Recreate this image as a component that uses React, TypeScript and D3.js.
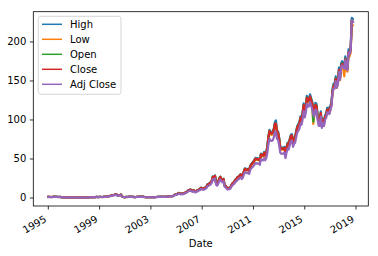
import React, { useEffect } from "react";
import * as d3 from "d3";

// Monthly samples, first of each month from 1995-01 to 2018-10
const START_MONTH = new Date(1995, 0, 1);

const closeVals = [
  1.39, 1.43, 1.31, 1.26, 1.39, 1.53, 1.66, 1.58, 1.54, 1.33, 1.29, 1.43,
  1.14, 0.99, 0.88, 0.87, 0.86, 0.92, 0.75, 0.62, 0.82, 0.79, 0.89, 0.83,
  0.75, 0.60, 0.54, 0.65, 0.61, 0.59, 0.51, 0.76, 0.78, 0.78, 0.61, 0.61,
  0.47, 0.63, 0.91, 0.97, 1.07, 1.03, 1.03, 1.23, 1.09, 1.36, 1.32, 1.10,
  1.46, 1.46, 1.25, 1.28, 1.66, 1.46, 1.65, 1.99, 2.31, 2.31, 2.87, 3.25,
  3.67, 3.71, 4.09, 4.85, 4.43, 3.00, 3.74, 3.63, 4.36, 1.84, 1.40, 1.18,
  1.06, 1.54, 1.30, 1.58, 1.82, 1.43, 1.66, 1.34, 1.33, 1.11, 1.26, 1.52,
  1.56, 1.76, 1.55, 1.69, 1.74, 1.66, 1.27, 1.09, 1.06, 1.04, 1.15, 1.11,
  1.02, 1.03, 1.07, 1.01, 1.01, 1.29, 1.36, 1.51, 1.61, 1.48, 1.64, 1.49,
  1.53, 1.61, 1.71, 1.93, 1.84, 2.01, 2.32, 2.31, 2.46, 2.77, 3.74, 4.79,
  4.60, 5.49, 6.41, 5.96, 5.16, 5.69, 5.26, 6.09, 6.70, 7.66, 8.23, 9.69,
  10.27, 10.79, 9.79, 8.96, 10.06, 8.54, 8.19, 9.71, 9.69, 11.00, 11.59, 13.10,
  12.11, 12.24, 12.09, 13.27, 14.26, 17.31, 17.43, 18.83, 19.79, 21.93, 27.14, 26.03,
  28.30, 19.34, 17.86, 20.50, 24.86, 26.96, 23.91, 22.71, 24.21, 16.24, 15.37, 13.24,
  12.19, 12.87, 12.76, 15.01, 17.97, 19.40, 20.35, 23.34, 24.03, 26.48, 26.93, 28.56,
  30.10, 27.44, 29.23, 33.57, 37.30, 36.70, 35.93, 36.75, 34.73, 40.54, 43.00, 44.45,
  46.08, 48.47, 50.46, 49.79, 50.01, 49.69, 47.95, 55.79, 54.98, 54.47, 57.83, 54.60,
  57.86, 65.21, 77.49, 85.65, 83.43, 82.53, 83.43, 87.25, 95.03, 95.30, 85.05, 83.61,
  76.02, 65.07, 63.06, 63.24, 63.25, 64.25, 56.65, 64.65, 69.60, 68.11, 74.67, 79.44,
  80.15, 71.51, 75.18, 76.68, 84.30, 90.43, 92.93, 95.60, 102.50, 100.75, 108.00, 118.93,
  110.38, 117.16, 128.46, 124.43, 125.15, 130.28, 125.43, 121.30, 112.76, 110.30, 119.50, 118.30,
  105.26, 97.34, 96.69, 108.99, 93.74, 99.86, 95.60, 104.21, 106.10, 113.05, 113.54, 110.52,
  115.82, 121.35, 136.99, 143.66, 143.65, 152.76, 144.02, 148.73, 164.00, 154.12, 169.04, 171.85,
  169.23, 167.43, 178.12, 167.78, 165.26, 186.87, 185.11, 190.29, 227.63, 225.74,
];

const adjCloseVals = [
  1.23, 1.27, 1.16, 1.12, 1.23, 1.36, 1.47, 1.40, 1.36, 1.18, 1.14, 1.27,
  1.01, 0.88, 0.78, 0.77, 0.76, 0.82, 0.66, 0.55, 0.73, 0.70, 0.79, 0.74,
  0.66, 0.53, 0.48, 0.58, 0.54, 0.52, 0.45, 0.67, 0.69, 0.69, 0.54, 0.54,
  0.42, 0.56, 0.81, 0.86, 0.95, 0.91, 0.91, 1.09, 0.97, 1.20, 1.17, 0.97,
  1.29, 1.29, 1.11, 1.13, 1.47, 1.29, 1.46, 1.76, 2.05, 2.05, 2.54, 2.88,
  3.25, 3.29, 3.62, 4.30, 3.92, 2.66, 3.31, 3.22, 3.86, 1.63, 1.24, 1.05,
  0.94, 1.36, 1.15, 1.40, 1.61, 1.27, 1.47, 1.19, 1.18, 0.98, 1.12, 1.35,
  1.38, 1.56, 1.37, 1.50, 1.54, 1.47, 1.13, 0.97, 0.94, 0.92, 1.02, 0.98,
  0.90, 0.91, 0.95, 0.89, 0.89, 1.14, 1.20, 1.34, 1.43, 1.31, 1.45, 1.32,
  1.36, 1.43, 1.52, 1.71, 1.63, 1.78, 2.06, 2.05, 2.18, 2.45, 3.31, 4.24,
  4.08, 4.86, 5.68, 5.28, 4.57, 5.04, 4.66, 5.40, 5.94, 6.79, 7.29, 8.59,
  9.10, 9.56, 8.67, 7.94, 8.91, 7.57, 7.26, 8.60, 8.59, 9.75, 10.27, 11.61,
  10.73, 10.84, 10.71, 11.76, 12.63, 15.34, 15.44, 16.68, 17.53, 19.43, 24.05, 23.06,
  25.07, 17.14, 15.82, 18.16, 22.03, 23.89, 21.18, 20.12, 21.45, 14.39, 13.62, 11.73,
  10.80, 11.40, 11.31, 13.30, 15.92, 17.19, 18.03, 20.68, 21.29, 23.46, 23.86, 25.30,
  26.67, 24.31, 25.90, 29.74, 33.05, 32.52, 31.83, 32.56, 30.77, 35.92, 38.10, 39.38,
  40.83, 42.94, 44.71, 44.11, 44.31, 44.03, 42.48, 49.43, 48.71, 48.26, 51.24, 48.38,
  51.26, 57.78, 68.66, 75.89, 73.92, 73.12, 73.92, 77.30, 84.58, 84.82, 75.69, 74.75,
  67.96, 58.17, 56.69, 56.85, 56.86, 58.15, 51.27, 58.51, 63.41, 62.05, 68.02, 72.85,
  73.50, 65.58, 69.32, 70.70, 77.72, 83.83, 86.15, 88.62, 95.53, 93.90, 100.66, 111.32,
  103.32, 109.66, 120.75, 116.96, 117.64, 122.85, 118.28, 114.39, 106.90, 104.56, 113.29, 112.62,
  100.21, 92.67, 92.53, 104.30, 89.71, 96.17, 92.06, 100.35, 102.70, 109.43, 109.91, 107.54,
  112.69, 118.07, 133.84, 140.36, 140.35, 149.86, 141.28, 145.90, 161.54, 151.81, 166.50, 169.96,
  167.37, 165.59, 176.87, 166.61, 164.10, 186.22, 184.46, 189.62, 227.63, 225.74,
];

const highVals = [
  1.42, 1.46, 1.34, 1.29, 1.42, 1.56, 1.70, 1.62, 1.57, 1.36, 1.32, 1.46,
  1.17, 1.02, 0.90, 0.89, 0.88, 0.94, 0.77, 0.64, 0.84, 0.81, 0.91, 0.85,
  0.77, 0.62, 0.56, 0.67, 0.63, 0.61, 0.53, 0.78, 0.80, 0.80, 0.63, 0.63,
  0.49, 0.65, 0.93, 0.99, 1.09, 1.05, 1.05, 1.26, 1.11, 1.39, 1.35, 1.13,
  1.49, 1.49, 1.28, 1.31, 1.69, 1.49, 1.69, 2.03, 2.36, 2.36, 2.93, 3.31,
  3.74, 3.78, 4.17, 4.95, 4.52, 3.06, 3.81, 3.70, 4.45, 1.88, 1.43, 1.20,
  1.08, 1.57, 1.33, 1.61, 1.86, 1.46, 1.69, 1.37, 1.36, 1.13, 1.29, 1.55,
  1.59, 1.80, 1.58, 1.72, 1.77, 1.69, 1.30, 1.11, 1.08, 1.06, 1.17, 1.13,
  1.04, 1.05, 1.09, 1.03, 1.03, 1.32, 1.39, 1.54, 1.64, 1.51, 1.67, 1.52,
  1.56, 1.64, 1.74, 1.97, 1.88, 2.05, 2.36, 2.35, 2.51, 2.83, 3.82, 4.89,
  4.69, 5.60, 6.54, 6.08, 5.26, 5.80, 5.37, 6.21, 6.83, 7.81, 8.39, 9.88,
  10.48, 11.01, 9.99, 9.14, 10.26, 8.71, 8.35, 9.90, 9.88, 11.22, 11.82, 13.36,
  12.35, 12.48, 12.33, 13.54, 14.55, 17.66, 17.78, 19.21, 20.19, 22.37, 27.68, 26.55,
  28.87, 19.73, 18.22, 20.91, 25.36, 27.50, 24.39, 23.16, 24.69, 16.56, 15.68, 13.50,
  12.43, 13.13, 13.02, 15.31, 18.33, 19.79, 20.76, 23.81, 24.51, 27.01, 27.47, 29.13,
  30.70, 27.99, 29.81, 34.24, 38.05, 37.43, 36.65, 37.49, 35.42, 41.35, 43.86, 45.34,
  47.00, 49.44, 51.47, 50.79, 51.01, 50.68, 48.91, 56.91, 56.08, 55.56, 58.99, 55.69,
  59.02, 66.51, 79.04, 87.36, 85.10, 84.18, 85.10, 88.99, 96.93, 99.50, 86.75, 85.28,
  77.54, 66.37, 64.32, 64.50, 64.52, 65.54, 57.78, 65.94, 70.99, 69.47, 76.16, 81.03,
  81.75, 72.94, 76.68, 78.21, 85.99, 92.24, 94.79, 97.51, 104.55, 102.77, 110.16, 121.31,
  112.59, 119.50, 131.03, 126.92, 127.65, 132.89, 127.94, 123.73, 115.02, 112.51, 121.89, 120.67,
  107.37, 99.29, 98.62, 111.17, 95.61, 101.86, 97.51, 106.29, 108.22, 115.31, 115.81, 112.73,
  118.14, 123.78, 139.73, 146.53, 146.52, 155.82, 146.90, 151.70, 167.28, 157.20, 172.42, 175.29,
  172.62, 170.78, 181.68, 171.14, 168.57, 190.61, 188.81, 194.10, 230.80, 229.60,
];

const lowVals = [
  1.36, 1.40, 1.28, 1.23, 1.36, 1.50, 1.62, 1.54, 1.50, 1.30, 1.26, 1.40,
  1.11, 0.96, 0.86, 0.85, 0.84, 0.90, 0.73, 0.60, 0.80, 0.77, 0.87, 0.81,
  0.73, 0.58, 0.52, 0.63, 0.59, 0.57, 0.49, 0.74, 0.76, 0.76, 0.59, 0.59,
  0.45, 0.61, 0.89, 0.95, 1.05, 1.01, 1.01, 1.20, 1.07, 1.33, 1.29, 1.07,
  1.43, 1.43, 1.22, 1.25, 1.63, 1.43, 1.61, 1.95, 2.26, 2.26, 2.81, 3.19,
  3.60, 3.64, 4.01, 4.75, 4.34, 2.94, 3.67, 3.56, 4.27, 1.80, 1.37, 1.16,
  1.04, 1.51, 1.27, 1.55, 1.78, 1.40, 1.63, 1.31, 1.30, 1.09, 1.23, 1.49,
  1.53, 1.72, 1.52, 1.66, 1.71, 1.63, 1.24, 1.07, 1.04, 1.02, 1.13, 1.09,
  1.00, 1.01, 1.05, 0.99, 0.99, 1.26, 1.33, 1.48, 1.58, 1.45, 1.61, 1.46,
  1.50, 1.58, 1.68, 1.89, 1.80, 1.97, 2.28, 2.27, 2.41, 2.71, 3.66, 4.69,
  4.51, 5.38, 6.28, 5.84, 5.06, 5.58, 5.15, 5.97, 6.57, 7.51, 8.07, 9.50,
  10.06, 10.57, 9.59, 8.78, 9.86, 8.37, 8.03, 9.52, 9.50, 10.78, 11.36, 12.84,
  11.87, 12.00, 11.85, 13.00, 13.97, 16.96, 17.08, 18.45, 19.39, 21.49, 26.60, 25.51,
  27.73, 18.95, 17.50, 20.09, 24.36, 26.42, 23.43, 22.26, 23.73, 15.92, 15.06, 12.98,
  11.95, 12.61, 12.50, 14.71, 17.61, 19.01, 19.94, 22.87, 23.55, 25.95, 26.39, 27.99,
  29.50, 26.89, 28.65, 32.90, 36.55, 35.97, 35.21, 36.01, 34.04, 39.73, 42.14, 43.56,
  45.16, 47.50, 49.45, 48.79, 49.01, 48.70, 46.99, 54.67, 53.88, 53.38, 56.67, 53.51,
  56.70, 63.91, 75.94, 83.94, 81.76, 80.88, 81.76, 85.51, 93.13, 93.39, 83.35, 81.94,
  74.50, 63.77, 61.80, 61.98, 61.98, 62.96, 55.52, 63.36, 68.21, 66.75, 73.18, 77.85,
  78.55, 70.08, 73.68, 75.15, 82.61, 88.62, 91.07, 93.69, 100.45, 98.73, 105.84, 116.55,
  108.17, 114.82, 125.89, 121.94, 122.65, 127.67, 122.92, 118.87, 95.00, 108.09, 117.11, 115.93,
  103.15, 95.39, 94.76, 106.81, 91.87, 97.86, 93.69, 102.13, 103.98, 110.79, 111.27, 108.31,
  113.50, 118.92, 134.25, 140.79, 140.78, 149.70, 141.14, 145.76, 160.72, 151.04, 165.66, 168.41,
  165.85, 156.00, 174.56, 164.42, 161.95, 183.13, 181.41, 186.48, 223.08, 221.23,
];

const openVals = [
  1.38, 1.44, 1.32, 1.25, 1.40, 1.52, 1.67, 1.57, 1.55, 1.32, 1.30, 1.42,
  1.15, 0.98, 0.89, 0.86, 0.87, 0.91, 0.76, 0.61, 0.83, 0.78, 0.90, 0.82,
  0.74, 0.61, 0.55, 0.64, 0.62, 0.58, 0.52, 0.75, 0.79, 0.77, 0.62, 0.60,
  0.48, 0.62, 0.92, 0.96, 1.08, 1.02, 1.04, 1.22, 1.10, 1.35, 1.33, 1.09,
  1.45, 1.47, 1.26, 1.27, 1.67, 1.45, 1.66, 1.98, 2.32, 2.30, 2.88, 3.24,
  3.66, 3.72, 4.08, 4.86, 4.42, 3.01, 3.73, 3.64, 4.35, 1.85, 1.39, 1.19,
  1.07, 1.53, 1.31, 1.57, 1.83, 1.42, 1.67, 1.33, 1.34, 1.10, 1.27, 1.51,
  1.55, 1.77, 1.56, 1.68, 1.75, 1.65, 1.28, 1.08, 1.07, 1.03, 1.16, 1.10,
  1.03, 1.02, 1.08, 1.00, 1.02, 1.28, 1.37, 1.50, 1.62, 1.47, 1.65, 1.48,
  1.52, 1.62, 1.70, 1.94, 1.83, 2.02, 2.31, 2.32, 2.45, 2.78, 3.72, 4.81,
  4.62, 5.46, 6.43, 5.93, 5.18, 5.67, 5.28, 6.06, 6.73, 7.63, 8.26, 9.65,
  10.31, 10.74, 9.83, 8.92, 10.10, 8.51, 8.22, 9.67, 9.73, 10.96, 11.63, 13.05,
  12.16, 12.19, 12.14, 13.22, 14.31, 17.25, 17.49, 18.77, 19.85, 21.86, 27.22, 25.95,
  28.21, 19.41, 17.80, 20.57, 24.78, 27.05, 23.84, 22.79, 24.13, 16.31, 15.31, 13.29,
  12.23, 12.83, 12.80, 14.96, 18.02, 19.35, 20.41, 23.28, 24.10, 26.41, 27.00, 28.49,
  30.01, 27.52, 29.15, 33.66, 37.19, 36.81, 35.84, 36.85, 34.64, 40.65, 42.88, 44.58,
  45.95, 48.60, 50.32, 49.93, 49.87, 49.83, 47.82, 55.94, 54.83, 54.62, 57.67, 54.75,
  57.70, 65.40, 77.27, 85.89, 83.20, 82.76, 83.20, 87.49, 94.77, 95.56, 84.82, 83.84,
  76.25, 64.87, 63.25, 63.05, 63.44, 64.06, 56.82, 64.46, 69.81, 67.91, 74.89, 79.20,
  79.91, 71.72, 74.95, 76.91, 84.05, 90.70, 92.65, 95.89, 102.19, 101.05, 107.68, 119.29,
  110.71, 116.81, 128.85, 124.06, 125.53, 129.89, 125.81, 120.94, 98.00, 109.97, 119.86, 117.95,
  105.62, 96.98, 97.02, 108.61, 94.07, 99.51, 95.93, 103.85, 106.47, 112.66, 113.93, 110.13,
  115.41, 121.78, 136.50, 144.17, 143.14, 153.30, 143.51, 149.25, 163.42, 154.66, 168.45, 172.45,
  169.82, 166.84, 178.74, 167.19, 165.84, 186.22, 185.76, 189.63, 228.43, 226.50,
];

const seriesNames = ["High", "Low", "Open", "Close", "Adj Close"];
const seriesValues = [highVals, lowVals, openVals, closeVals, adjCloseVals];
const seriesColors = ["#1f77b4", "#ff7f0e", "#2ca02c", "#d62728", "#9467bd"];

const yTicks = [0, 50, 100, 150, 200];
const xTickYears = [1995, 1999, 2003, 2007, 2011, 2015, 2019];
const xLabel = "Date";

const W = 378;
const H = 256;
const M = { left: 33.3, right: 368.3, top: 11.7, bottom: 206 };
const FONT = "'DejaVu Sans', sans-serif";

export default function App() {
  useEffect(() => {
    document.body.style.margin = "0";
  }, []);

  const dates = closeVals.map((_, i) => d3.timeMonth.offset(START_MONTH, i));

  const x = d3
    .scaleTime()
    .domain([new Date(1993, 9, 30), new Date(2019, 11, 16)])
    .range([M.left, M.right]);
  const y = d3.scaleLinear().domain([-10.26, 238.8]).range([M.bottom, M.top]);

  const line = d3
    .line<number>()
    .x((_, i) => x(dates[i]))
    .y((v) => y(v));

  const legendRows = seriesNames.map((n, i) => ({ name: n, color: seriesColors[i] }));

  return (
    <svg width={W} height={H} style={{ display: "block", background: "#fff" }} fontFamily={FONT}>
      <defs>
        <clipPath id="plotclip">
          <rect x={M.left} y={M.top} width={M.right - M.left} height={M.bottom - M.top} />
        </clipPath>
      </defs>
      <rect x={0} y={0} width={W} height={H} fill="#fff" />
      <g clipPath="url(#plotclip)">
        {seriesValues.map((vals, si) => (
          <path
            key={seriesNames[si]}
            d={line(vals) || ""}
            fill="none"
            stroke={seriesColors[si]}
            strokeWidth={2.2}
            strokeLinejoin="round"
            strokeLinecap="square"
          />
        ))}
      </g>
      {/* spines */}
      <rect
        x={M.left}
        y={M.top}
        width={M.right - M.left}
        height={M.bottom - M.top}
        fill="none"
        stroke="#000"
        strokeWidth={0.8}
      />
      {/* y ticks */}
      {yTicks.map((t) => (
        <g key={"y" + t}>
          <line x1={M.left - 3.5} x2={M.left} y1={y(t)} y2={y(t)} stroke="#000" strokeWidth={0.8} />
          <text
            x={M.left - 7}
            y={y(t)}
            fontSize={10}
            textAnchor="end"
            dominantBaseline="central"
            fill="#000"
          >
            {t}
          </text>
        </g>
      ))}
      {/* x ticks */}
      {xTickYears.map((yr) => {
        const px = x(new Date(yr, 0, 1));
        return (
          <g key={"x" + yr}>
            <line x1={px} x2={px} y1={M.bottom} y2={M.bottom + 3.5} stroke="#000" strokeWidth={0.8} />
            <text
              transform={`translate(${px - 2.9},${M.bottom + 12}) rotate(-30)`}
              fontSize={10}
              textAnchor="end"
              dominantBaseline="central"
              fill="#000"
            >
              {String(yr)}
            </text>
          </g>
        );
      })}
      <text
        x={(M.left + M.right) / 2}
        y={247}
        fontSize={10}
        textAnchor="middle"
        fill="#000"
      >
        {xLabel}
      </text>
      {/* legend */}
      <rect
        x={38.3}
        y={16.3}
        width={82.7}
        height={78}
        rx={2.5}
        fill="#fff"
        fillOpacity={0.8}
        stroke="#cccccc"
        strokeWidth={0.8}
      />
      {legendRows.map((r, i) => {
        const ly = 24.3 + i * 15;
        return (
          <g key={r.name}>
            <line x1={42} x2={62} y1={ly} y2={ly} stroke={r.color} strokeWidth={1.5} />
            <text x={70} y={ly} fontSize={10} dominantBaseline="central" fill="#000">
              {r.name}
            </text>
          </g>
        );
      })}
    </svg>
  );
}
